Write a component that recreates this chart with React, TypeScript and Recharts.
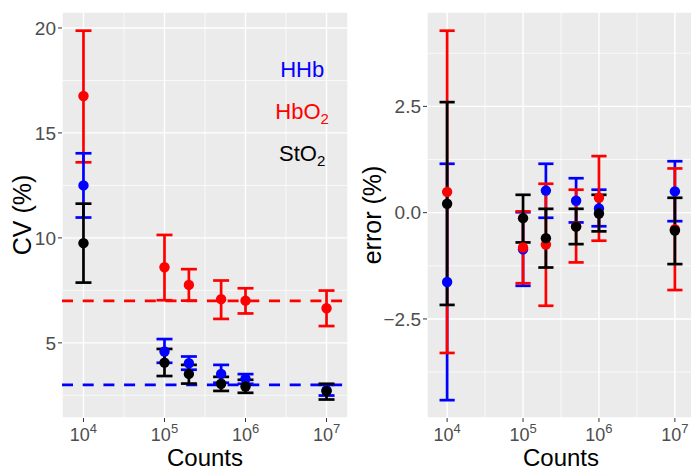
import { ScatterChart, Scatter, XAxis, YAxis, CartesianGrid, ErrorBar, ReferenceLine } from "recharts";

const FONT = '"Liberation Sans", Arial, Helvetica, sans-serif';
const RED = "#FF0000";
const BLUE = "#0000FF";
const BLACK = "#000000";

const counts = [1e4, 1e5, 2e5, 5e5, 1e6, 1e7];

// CV (%) per chromophore: mean, lower and upper bar ends
const hbo2Cv = [16.76, 8.6, 7.76, 7.08, 7.01, 6.65];
const hbo2CvLo = [13.6, 7.03, 7.01, 6.14, 6.4, 5.8];
const hbo2CvHi = [19.87, 10.14, 8.51, 7.97, 7.6, 7.49];

const hhbCv = [12.5, 4.59, 4.03, 3.52, 3.29, 2.75];
const hhbCvLo = [10.97, 4.05, 3.72, 3.1, 3.05, 2.49];
const hhbCvHi = [14.03, 5.18, 4.35, 3.95, 3.51, 3.0];

const stoCv = [9.75, 4.06, 3.52, 3.05, 2.92, 2.7];
const stoCvLo = [7.87, 3.42, 3.06, 2.71, 2.62, 2.3];
const stoCvHi = [11.63, 4.71, 3.95, 3.38, 3.24, 3.05];

// error (%)
const hhbErr = [-1.63, -0.86, 0.52, 0.28, 0.1, 0.5];
const hhbErrLo = [-4.41, -1.72, -0.12, -0.23, -0.32, -0.2];
const hhbErrHi = [1.15, 0.01, 1.15, 0.81, 0.54, 1.21];

const hbo2Err = [0.49, -0.82, -0.75, -0.32, 0.35, -0.39];
const hbo2ErrLo = [-3.3, -1.66, -2.19, -1.17, -0.66, -1.82];
const hbo2ErrHi = [4.28, 0.03, 0.68, 0.54, 1.33, 1.04];

const stoErr = [0.21, -0.13, -0.6, -0.33, -0.02, -0.42];
const stoErrLo = [-2.17, -0.7, -1.29, -0.74, -0.44, -1.21];
const stoErrHi = [2.6, 0.42, 0.09, 0.09, 0.42, 0.35];

// reference levels
const hbo2Ref = 7;
const hhbRef = 3;

// annotation labels in the left panel
const labelCount = 5e6;
const labelNames = ["HHb", "HbO|2", "StO|2"];
const labelY = [18, 16, 14];
const labelColors = [BLUE, RED, BLACK];

const xTicks = [4, 5, 6, 7];
const xMinor = [4.5, 5.5, 6.5];
const cvTicks = [5, 10, 15, 20];
const cvMinor = [2.5, 7.5, 12.5, 17.5];
const errTicks = [-2.5, 0, 2.5];
const errMinor = [-3.75, -1.25, 1.25, 3.75];

const rows = (mean: number[], lo: number[], hi: number[]) =>
  counts.map((c, i) => ({ lx: Math.log10(c), v: mean[i], err: [mean[i] - lo[i], hi[i] - mean[i]] }));

const labelRows = labelNames.map((t, i) => ({ lx: Math.log10(labelCount), v: labelY[i], text: t, color: labelColors[i] }));

const dot = (color: string) => (p: any) => <circle cx={p.cx} cy={p.cy} r={5.2} fill={color} />;

const LabelShape = (p: any) => {
  const [main, sub] = p.payload.text.split("|");
  return (
    <text x={p.cx} y={p.cy} textAnchor="middle" dominantBaseline="central" fontSize={22} fontFamily={FONT} fill={p.payload.color}>
      {main}
      {sub && (
        <tspan dy={6} fontSize={15}>
          {sub}
        </tspan>
      )}
    </text>
  );
};

const PowTick = (p: any) => (
  <text x={p.x} y={p.y + 17} textAnchor="middle" fill="#4D4D4D" fontSize={18} fontFamily={FONT}>
    10
    <tspan dy={-8} fontSize={13}>
      {p.payload.value}
    </tspan>
  </text>
);

const XTitle = (p: any) => {
  const vb = p.viewBox;
  return (
    <text x={vb.x + vb.width / 2} y={vb.y + 48} textAnchor="middle" fontSize={24} fontFamily={FONT} fill="#000">
      Counts
    </text>
  );
};

const YTitle = (text: string) => (p: any) => {
  const vb = p.viewBox;
  const cx = vb.x + 22;
  const cy = vb.y + vb.height / 2;
  return (
    <text x={cx} y={cy} transform={`rotate(-90, ${cx}, ${cy})`} textAnchor="middle" dominantBaseline="central" fontSize={25} fontFamily={FONT} fill="#000">
      {text}
    </text>
  );
};

const fmtErr = (v: number) => (v < 0 ? "\u2212" : "") + Math.abs(v).toFixed(1);

const tickStyle = { fill: "#4D4D4D", fontSize: 19, fontFamily: FONT };
const tickLine = { stroke: "#333333" };

export default function App() {
  const cvSeries = [
    { data: rows(hbo2Cv, hbo2CvLo, hbo2CvHi), color: RED },
    { data: rows(hhbCv, hhbCvLo, hhbCvHi), color: BLUE },
    { data: rows(stoCv, stoCvLo, stoCvHi), color: BLACK },
  ];
  const errSeries = [
    { data: rows(hhbErr, hhbErrLo, hhbErrHi), color: BLUE },
    { data: rows(hbo2Err, hbo2ErrLo, hbo2ErrHi), color: RED },
    { data: rows(stoErr, stoErrLo, stoErrHi), color: BLACK },
  ];

  return (
    <div style={{ position: "absolute", left: 0, top: 0, width: 691, height: 470, overflow: "hidden", background: "#fff" }}>
      <div style={{ position: "absolute", left: 0, top: 0 }}>
        <ScatterChart width={350} height={470} margin={{ top: 12, right: 2, bottom: 0, left: 0 }}>
          <CartesianGrid fill="#EBEBEB" fillOpacity={1} stroke="#FFFFFF" strokeWidth={0.7} horizontalValues={cvMinor} verticalValues={xMinor} />
          <CartesianGrid stroke="#FFFFFF" strokeWidth={1.4} />
          <XAxis type="number" dataKey="lx" domain={[3.735, 7.265]} allowDataOverflow ticks={xTicks} tick={<PowTick />} tickLine={tickLine} tickSize={4} axisLine={false} height={52} label={<XTitle />} />
          <YAxis type="number" dataKey="v" domain={[1.42, 20.76]} allowDataOverflow ticks={cvTicks} tick={tickStyle} tickLine={tickLine} tickSize={4} tickMargin={2} axisLine={false} width={62} label={YTitle("CV (%)")} />
          <ReferenceLine y={hbo2Ref} stroke={RED} strokeWidth={2.7} strokeDasharray="11 9.7" />
          <ReferenceLine y={hhbRef} stroke={BLUE} strokeWidth={2.7} strokeDasharray="11 9.7" />
          {cvSeries.map((s, i) => (
            <Scatter key={i} data={s.data} shape={dot(s.color)} isAnimationActive={false}>
              <ErrorBar dataKey="err" direction="y" width={8} stroke={s.color} strokeWidth={2.7} />
            </Scatter>
          ))}
          <Scatter data={labelRows} shape={LabelShape} isAnimationActive={false} />
        </ScatterChart>
      </div>
      <div style={{ position: "absolute", left: 350, top: 0 }}>
        <ScatterChart width={345} height={470} margin={{ top: 12, right: 0, bottom: 0, left: 0 }}>
          <CartesianGrid fill="#EBEBEB" fillOpacity={1} stroke="#FFFFFF" strokeWidth={0.7} horizontalValues={errMinor} verticalValues={xMinor} />
          <CartesianGrid stroke="#FFFFFF" strokeWidth={1.4} />
          <XAxis type="number" dataKey="lx" domain={[3.735, 7.265]} allowDataOverflow ticks={xTicks} tick={<PowTick />} tickLine={tickLine} tickSize={4} axisLine={false} height={52} label={<XTitle />} />
          <YAxis type="number" dataKey="v" domain={[-4.83, 4.72]} allowDataOverflow ticks={errTicks} tickFormatter={fmtErr} tick={tickStyle} tickLine={tickLine} tickSize={4} tickMargin={2} axisLine={false} width={77} label={YTitle("error (%)")} />
          {errSeries.map((s, i) => (
            <Scatter key={i} data={s.data} shape={dot(s.color)} isAnimationActive={false}>
              <ErrorBar dataKey="err" direction="y" width={7.6} stroke={s.color} strokeWidth={2.7} />
            </Scatter>
          ))}
        </ScatterChart>
      </div>
    </div>
  );
}
